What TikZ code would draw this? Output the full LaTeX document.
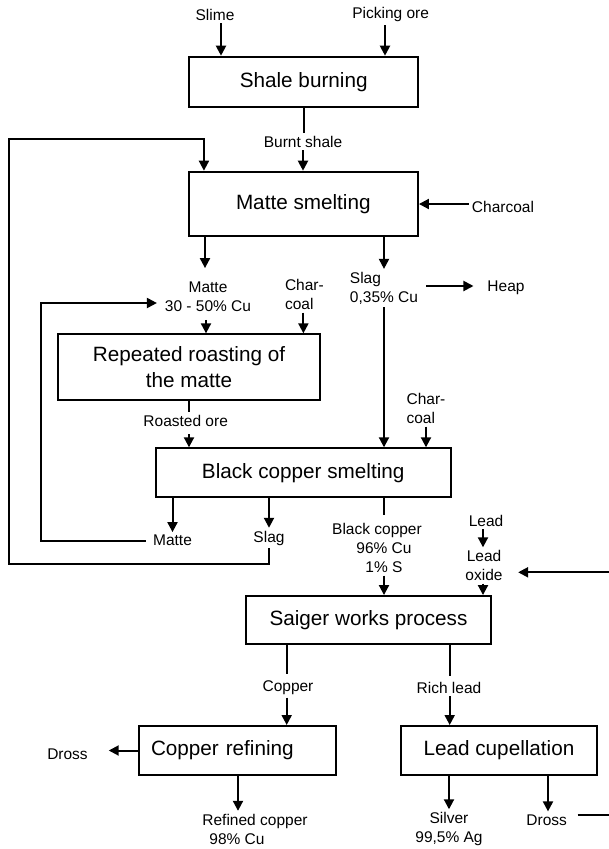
\documentclass[tikz,border=0pt]{standalone}
\usepackage{fontspec}
\setmainfont{Liberation Sans}
\usetikzlibrary{arrows.meta}

\begin{document}
\begin{tikzpicture}[
  x=1pt, y=-1pt,
  line width=2pt,
  proc/.style={rectangle,draw,line width=2pt,inner sep=0pt,align=center,
    font=\fontsize{20.7}{26}\selectfont},
  flux/.style={inner sep=0pt,outer sep=3pt,align=center,
    font=\fontsize{15.5}{19}\selectfont},
  >={Triangle[length=10pt,width=10pt]} % <-- pointes pleines
]
\useasboundingbox (0,0) rectangle (608,849);

% fours et ateliers
\node[proc,minimum width=229.3pt,minimum height=50.6pt] (shale) at (303.7,82) {Shale burning};
\node[proc,minimum width=229.3pt,minimum height=64.6pt] (smelt) at (303.3,204) {Matte smelting};
\node[proc,minimum width=261.4pt,minimum height=65.7pt] (roast) at (189,367.2) {Repeated roasting of\\the matte};
\node[proc,minimum width=295pt,minimum height=49pt] (black) at (303.2,472.8) {Black copper smelting};
\node[proc,minimum width=245.6pt,minimum height=48.3pt] (saiger) at (368.5,620.2) {Saiger works process};
\node[proc,text width=173.6pt,inner xsep=11.7pt,align=left,minimum height=49pt] (refining) at (237.8,750.5) {Copper refining};
\node[proc,minimum width=196.6pt,minimum height=49pt] (cupel) at (499,750.5) {Lead cupellation};

% flux
\node[flux] (slime) at (215,14.8) {Slime};
\node[flux] (picking) at (390.7,14.8) {Picking ore};
\node[flux] (burnt) at (303,141.5) {Burnt shale};
\node[flux] (charcoal1) at (503,206.5) {Charcoal};
\node[flux] (mattelbl) at (208,297) {Matte\\30 - 50\% Cu};
\node[flux,align=left] (charcoal2) at (304.4,294.5) {Char-\\coal};
\node[flux,align=left] (slag1) at (384,288) {Slag\\0,35\% Cu};
\node[flux] (heap) at (506,287.5) {Heap};
\node[flux] (roasted) at (185.7,420.5) {Roasted ore};
\node[flux,align=left] (charcoal3) at (426,408.5) {Char-\\coal};
\node[flux] (matte2) at (172.5,540.5) {Matte};
\node[flux] (slag2) at (269,538) {Slag};
\node[flux] (blackcu) at (384,548) {Black copper\hspace*{14pt}\\96\% Cu\\1\% S};
\node[flux] (lead) at (486,520.5) {Lead};
\node[flux] (oxide) at (484,565.5) {Lead\\oxide};
\node[flux] (copper) at (288,687.5) {Copper};
\node[flux] (richlead) at (449,687.5) {Rich lead};
\node[flux] (dross1) at (67.5,754) {Dross};
\node[flux] (refined) at (255,829) {Refined copper\\98\% Cu\hspace*{36pt}};
\node[flux] (silver) at (449,829) {Silver\\99,5\% Ag};
\node[flux] (dross2) at (546.7,819.8) {Dross};

% entrees du haut
\draw[->] ([xshift=6pt]slime.south) -- ([xshift=6pt]slime.south |- shale.north);
\draw[->] ([xshift=-5.7pt]picking.south) -- ([xshift=-5.7pt]picking.south |- shale.north);
\draw (shale.south) -- (shale.south |- burnt.north);
\draw[->] (burnt.south) -- (burnt.south |- smelt.north);
\draw[<-] (smelt.east) -- (smelt.east -| charcoal1.west);

% fonte de matte
\draw[->,shorten >=11pt] ([xshift=-3pt]mattelbl.north |- smelt.south) -- ([xshift=-3pt]mattelbl.north);
\draw[->] (slag1.north |- smelt.south) -- (slag1.north);
\draw[->,shorten <=5pt,shorten >=11pt] ([yshift=2pt]slag1.east) -- ([yshift=2pt]slag1.east -| heap.west);
\draw[->,shorten <=5pt] ([xshift=-2pt]mattelbl.south) -- ([xshift=-2pt]mattelbl.south |- roast.north);
\draw[->] ([xshift=-1pt]charcoal2.south) -- ([xshift=-1pt]charcoal2.south |- roast.north);
\draw[->] (slag1.south) -- (slag1.south |- black.north);

% grillage
\draw ([xshift=3.3pt]roasted.north |- roast.south) -- ([xshift=3.3pt]roasted.north);
\draw[->,shorten <=5pt] ([xshift=3.3pt]roasted.south) -- ([xshift=3.3pt]roasted.south |- black.north);
\draw[->] (charcoal3.south) -- (charcoal3.south |- black.north);

% cuivre noir
\draw[->] (matte2.north |- black.south) -- (matte2.north);
\draw[->] (slag2.north |- black.south) -- (slag2.north);
\draw[->,shorten <=4.6pt,shorten >=5pt] (matte2.west) -- ++(-109.6,0) |- ([yshift=-6pt]mattelbl.west);
\draw[->] (slag2.south) -- ++(0,16) -| (9,139.3) -| ([xshift=16.3pt]smelt.north west);
\draw[shorten >=5pt] (blackcu.north |- black.south) -- (blackcu.north);
\draw[->] (blackcu.south) -- (blackcu.south |- saiger.north);
\draw[->] ([xshift=-3pt]lead.south) -- ([xshift=-3pt]lead.south |- oxide.north);
\draw[->] ([xshift=-1pt]oxide.south) -- ([xshift=-1pt]oxide.south |- saiger.north);

% liquation
\draw[shorten >=3pt] ([xshift=-1.3pt]copper.north |- saiger.south) -- ([xshift=-1.3pt]copper.north);
\draw[->] ([xshift=-1.3pt]copper.south) -- ([xshift=-1.3pt]copper.south |- refining.north);
\draw[shorten >=3pt] ([xshift=0.7pt]richlead.north |- saiger.south) -- ([xshift=0.7pt]richlead.north);
\draw[->] ([xshift=0.7pt]richlead.south) -- ([xshift=0.7pt]richlead.south |- cupel.north);

% affinage et coupellation
\draw[->,shorten >=18pt] (refining.west) -- (refining.west -| dross1.east);
\draw[->] ([xshift=-17pt]refined.north |- refining.south) -- ([xshift=-17pt]refined.north);
\draw[->] (silver.north |- cupel.south) -- (silver.north);
\draw[->] ([xshift=1.3pt]dross2.north |- cupel.south) -- ([xshift=1.3pt]dross2.north);
\draw[->,shorten <=7.6pt,shorten >=12.6pt] ([yshift=4.8pt]dross2.east) -- ++(60,0) |- ([yshift=-6.8pt]oxide.east);

\end{tikzpicture}
\end{document}
